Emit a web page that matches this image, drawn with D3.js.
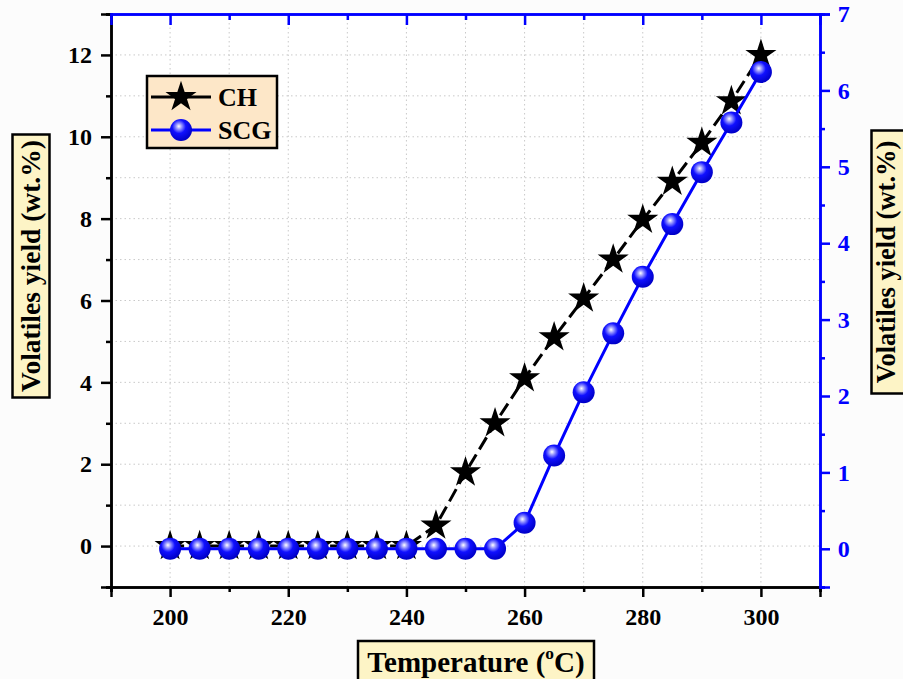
<!DOCTYPE html>
<html>
<head>
<meta charset="utf-8">
<script src="https://cdn.jsdelivr.net/npm/d3@7"></script>
<style>
  html, body { margin: 0; padding: 0; background: #fcfcfc; }
  svg { display: block; }
  text { font-family: "Liberation Serif", "Times New Roman", serif; font-weight: bold; }
</style>
</head>
<body>
<svg id="chart" width="903" height="679"></svg>
<script>
// Temperatures (°C)
const temperature = [200, 205, 210, 215, 220, 225, 230, 235, 240, 245, 250, 255, 260, 265, 270, 275, 280, 285, 290, 295, 300];
// Volatiles yield (wt.%) — CH on the left axis, SCG on the right axis
const chYield  = [0, 0, 0, 0, 0, 0, 0, 0, 0, 0.5, 1.8, 3.0, 4.1, 5.1, 6.05, 7.0, 7.97, 8.9, 9.85, 10.87, 12.0];
const scgYield = [0, 0, 0, 0, 0, 0, 0, 0, 0, 0, 0, 0, 0.34, 1.22, 2.05, 2.82, 3.56, 4.25, 4.93, 5.58, 6.24];
const seriesNames = ["CH", "SCG"];
const xTicks = [200, 220, 240, 260, 280, 300];
const leftTicks = [0, 2, 4, 6, 8, 10, 12];
const rightTicks = [0, 1, 2, 3, 4, 5, 6, 7];

const svg = d3.select("#chart");
const L = 111, R = 820, T = 14, B = 587;

const x = d3.scaleLinear().domain([190, 310]).range([L, R]);
const yL = d3.scaleLinear().domain([-1, 13]).range([B, T]);
const yR = d3.scaleLinear().domain([-0.5, 7]).range([B, T]);

// plot area
svg.append("rect").attr("x", L).attr("y", T).attr("width", R - L).attr("height", B - T).attr("fill", "#ffffff");

// dotted grid on major and minor ticks
const grid = svg.append("g").attr("stroke", "#c9c9c9").attr("stroke-width", 1).attr("stroke-dasharray", "1.5,3");
d3.range(200, 301, 10).forEach(v => {
  grid.append("line").attr("x1", x(v)).attr("x2", x(v)).attr("y1", T).attr("y2", B);
});
d3.range(0, 13, 1).forEach(v => {
  grid.append("line").attr("x1", L).attr("x2", R).attr("y1", yL(v)).attr("y2", yL(v));
});

// defs: shaded sphere marker
const defs = svg.append("defs");
const grad = defs.append("radialGradient").attr("id", "ball").attr("cx", "0.42").attr("cy", "0.36").attr("r", "0.62").attr("fx", "0.4").attr("fy", "0.33");
grad.append("stop").attr("offset", "0").attr("stop-color", "#ffffff");
grad.append("stop").attr("offset", "0.2").attr("stop-color", "#9a9aff");
grad.append("stop").attr("offset", "0.5").attr("stop-color", "#1010ff");
grad.append("stop").attr("offset", "1").attr("stop-color", "#0000c8");

// axes
const axisW = 2.5;
const tickFont = 24;
const bottomAxis = svg.append("g").attr("transform", `translate(0,${B})`)
  .call(d3.axisBottom(x).tickValues(xTicks).tickSize(10).tickFormat(d3.format("d")));
const bottomMinor = svg.append("g").attr("transform", `translate(0,${B})`)
  .call(d3.axisBottom(x).tickValues(d3.range(190, 311, 20)).tickSize(5).tickFormat(""));
[bottomAxis, bottomMinor].forEach(g => {
  g.select(".domain").attr("stroke", "#000").attr("stroke-width", axisW);
  g.selectAll(".tick line").attr("stroke", "#000").attr("stroke-width", axisW);
});
bottomAxis.selectAll(".tick text").attr("font-size", tickFont).attr("fill", "#000").attr("dy", "1.05em");

const leftAxis = svg.append("g").attr("transform", `translate(${L},0)`)
  .call(d3.axisLeft(yL).tickValues(leftTicks).tickSize(10).tickFormat(d3.format("d")));
const leftMinor = svg.append("g").attr("transform", `translate(${L},0)`)
  .call(d3.axisLeft(yL).tickValues(d3.range(-1, 14, 2)).tickSize(5).tickFormat(""));
[leftAxis, leftMinor].forEach(g => {
  g.select(".domain").attr("stroke", "#000").attr("stroke-width", axisW);
  g.selectAll(".tick line").attr("stroke", "#000").attr("stroke-width", axisW);
});
leftAxis.selectAll(".tick text").attr("font-size", tickFont).attr("fill", "#000").attr("dx", "-0.25em");

const topAxis = svg.append("g").attr("transform", `translate(0,${T})`)
  .call(d3.axisTop(x).tickValues(xTicks).tickSize(-11).tickFormat(""));
const topMinor = svg.append("g").attr("transform", `translate(0,${T})`)
  .call(d3.axisTop(x).tickValues(d3.range(210, 301, 20)).tickSize(-6).tickFormat(""));
[topAxis, topMinor].forEach(g => {
  g.select(".domain").attr("stroke", "#0000ff").attr("stroke-width", axisW);
  g.selectAll(".tick line").attr("stroke", "#0000ff").attr("stroke-width", axisW);
});

const rightAxis = svg.append("g").attr("transform", `translate(${R},0)`)
  .call(d3.axisRight(yR).tickValues(rightTicks).tickSize(10).tickFormat(d3.format("d")));
const rightMinor = svg.append("g").attr("transform", `translate(${R},0)`)
  .call(d3.axisRight(yR).tickValues(d3.range(-0.5, 7, 1)).tickSize(5).tickFormat(""));
[rightAxis, rightMinor].forEach(g => {
  g.select(".domain").attr("stroke", "#0000ff").attr("stroke-width", axisW);
  g.selectAll(".tick line").attr("stroke", "#0000ff").attr("stroke-width", axisW);
});
rightAxis.selectAll(".tick text").attr("font-size", tickFont).attr("fill", "#0000ff").attr("dx", "0.2em");

// data
const chPts = temperature.map((t, i) => [t, chYield[i]]);
const scgPts = temperature.map((t, i) => [t, scgYield[i]]);

svg.append("path").datum(chPts)
  .attr("fill", "none").attr("stroke", "#000").attr("stroke-width", 3)
  .attr("stroke-dasharray", "14,6")
  .attr("d", d3.line().x(d => x(d[0])).y(d => yL(d[1])));

const star = d3.symbol().type(d3.symbolStar).size(300);
svg.append("g").selectAll("path").data(chPts).join("path")
  .attr("d", star)
  .attr("transform", d => `translate(${x(d[0])},${yL(d[1])})`)
  .attr("fill", "#000");

svg.append("path").datum(scgPts)
  .attr("fill", "none").attr("stroke", "#0000ff").attr("stroke-width", 3)
  .attr("d", d3.line().x(d => x(d[0])).y(d => yR(d[1])));

svg.append("g").selectAll("circle").data(scgPts).join("circle")
  .attr("cx", d => x(d[0])).attr("cy", d => yR(d[1])).attr("r", 11)
  .attr("fill", "url(#ball)");

// legend
const lg = svg.append("g");
lg.append("rect").attr("x", 147).attr("y", 76).attr("width", 130).attr("height", 72)
  .attr("fill", "#fde7c8").attr("stroke", "#000").attr("stroke-width", 2.5);
const ly = [97, 130];
lg.append("line").attr("x1", 151).attr("x2", 211).attr("y1", ly[0]).attr("y2", ly[0]).attr("stroke", "#000").attr("stroke-width", 3);
lg.append("path").attr("d", star).attr("transform", `translate(181,${ly[0]})`).attr("fill", "#000");
lg.append("line").attr("x1", 151).attr("x2", 211).attr("y1", ly[1]).attr("y2", ly[1]).attr("stroke", "#0000ff").attr("stroke-width", 3);
lg.append("circle").attr("cx", 181).attr("cy", ly[1]).attr("r", 11).attr("fill", "url(#ball)");
seriesNames.forEach((n, i) => {
  lg.append("text").attr("x", 218).attr("y", ly[i]).attr("dy", "0.35em")
    .attr("font-size", 26).attr("fill", "#000").text(n);
});

// axis titles in boxes; `shift` moves the text across the box (in rotated space)
function boxedTitle(cx, cy, w, h, rotate, size, shift, dy, label, sup, rest) {
  const g = svg.append("g").attr("transform", `translate(${cx},${cy}) rotate(${rotate})`);
  g.append("rect").attr("x", -w / 2).attr("y", -h / 2).attr("width", w).attr("height", h)
    .attr("fill", "#fdf4c6").attr("stroke", "#000").attr("stroke-width", 2.5);
  const t = g.append("text").attr("text-anchor", "middle").attr("y", shift).attr("dy", dy)
    .attr("font-size", size).attr("fill", "#000");
  t.append("tspan").text(label);
  if (sup) {
    t.append("tspan").attr("font-size", size * 0.6).attr("dy", "-0.75em").text(sup);
    t.append("tspan").attr("font-size", size).attr("dy", "0.45em").text(rest);
  }
}
boxedTitle(31, 266, 263, 37, -90, 27.5, 0, "0.34em", "Volatiles yield (wt.%)");
boxedTitle(890, 262, 263, 37, -90, 26.5, -2, "0.28em", "Volatiles yield (wt.%)");
boxedTitle(476, 662, 236, 42, 0, 29, 0, "0.34em", "Temperature (", "o", "C)");
</script>
</body>
</html>
